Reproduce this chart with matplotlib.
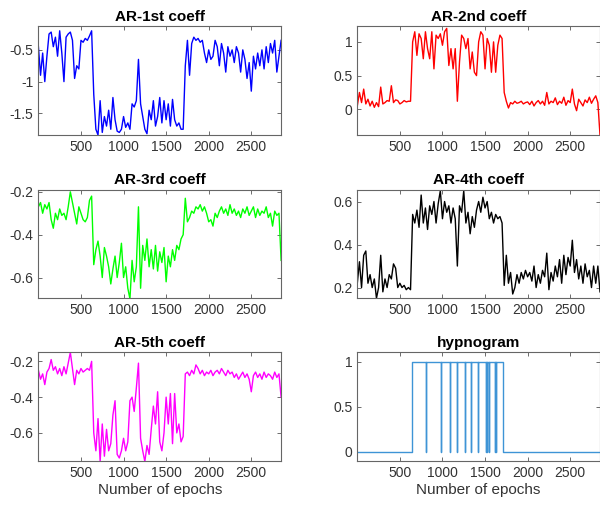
import matplotlib
matplotlib.use("Agg")
import matplotlib.pyplot as plt
import numpy as np
from matplotlib.ticker import FuncFormatter

plt.rcParams["font.family"] = ["Liberation Sans", "DejaVu Sans"]
plt.rcParams["axes.unicode_minus"] = False

# epochs sampled every 25
epochs = np.arange(0, 2851, 25)

ar1 = [-0.45, -0.9, -0.55, -1.0, -0.6, -0.25, -0.22, -0.45, -0.3, -0.6,
       -0.2, -0.55, -1.0, -0.3, -0.25, -0.22, -0.35, -0.95, -0.75, -0.8,
       -0.35, -0.38, -0.32, -0.35, -0.28, -0.2, -1.2, -1.75, -1.84, -1.3,
       -1.8, -1.55, -1.7, -1.45, -1.75, -1.25, -1.6, -1.78, -1.8, -1.75,
       -1.55, -1.72, -1.65, -1.75, -1.35, -1.4, -1.3, -0.65, -1.35, -1.55,
       -1.75, -1.82, -1.45, -1.6, -1.3, -1.7, -1.55, -1.25, -1.65, -1.3,
       -1.6, -1.35, -1.7, -1.28, -1.6, -1.7, -1.65, -1.75, -1.75, -0.75,
       -0.35, -0.9, -0.4, -0.3, -0.35, -0.32, -0.38, -0.35, -0.55, -0.7,
       -0.5, -0.65, -0.6, -0.35, -0.45, -0.75, -0.4, -0.55, -0.85, -0.45,
       -0.6, -0.5, -0.7, -0.45, -0.55, -0.85, -0.5, -0.65, -0.95, -0.7,
       -1.15, -0.6, -0.8, -0.55, -0.75, -0.5, -0.8, -0.45, -0.7, -0.4,
       -0.55, -0.35, -0.85, -0.6, -0.35]

ar2 = [0.05, 0.25, 0.1, 0.3, 0.08, 0.15, 0.05, 0.12, 0.03, 0.1,
       0.04, 0.33, 0.08, 0.1, 0.13, 0.12, 0.35, 0.1, 0.14, 0.13,
       0.08, 0.1, 0.13, 0.11, 0.12, 0.12, 1.0, 1.15, 0.8, 1.12,
       1.05, 0.75, 1.15, 0.9, 0.75, 1.15, 0.6, 1.1, 1.05, 1.12,
       0.95, 1.15, 1.2, 0.65, 0.9, 0.6, 0.9, 0.12, 0.7, 1.1,
       1.05, 0.9, 1.05, 0.6, 0.85, 0.55, 0.5, 1.0, 1.15, 1.1,
       0.6, 1.05, 0.95, 0.55, 1.0, 0.55, 0.95, 1.1, 1.05, 0.25,
       0.12, 0.02, 0.1, 0.08, 0.12, 0.09, 0.1, 0.12, 0.08, 0.1,
       0.11, 0.07, 0.12, 0.05, 0.1, 0.13, 0.08, 0.12, 0.06, 0.25,
       0.08, 0.12, 0.1, 0.17, 0.07, 0.12, 0.09, 0.18, 0.06, 0.13,
       0.1, 0.3, 0.08, -0.02, 0.15, 0.1, 0.05, 0.14, 0.1, 0.18,
       0.09, 0.15, 0.2, 0.1, -0.38]

ar3 = [-0.27, -0.25, -0.3, -0.26, -0.28, -0.25, -0.33, -0.37, -0.3, -0.33,
       -0.28, -0.31, -0.3, -0.33, -0.27, -0.2, -0.25, -0.3, -0.35, -0.27,
       -0.3, -0.33, -0.34, -0.32, -0.24, -0.22, -0.54, -0.47, -0.43, -0.5,
       -0.6, -0.46, -0.5, -0.55, -0.63, -0.56, -0.5, -0.6, -0.53, -0.44,
       -0.6, -0.55, -0.65, -0.7, -0.52, -0.62, -0.55, -0.27, -0.65, -0.45,
       -0.52, -0.42, -0.55, -0.47, -0.56, -0.45, -0.57, -0.48, -0.53, -0.46,
       -0.62, -0.5, -0.55, -0.47, -0.52, -0.45, -0.47, -0.42, -0.4, -0.23,
       -0.34, -0.32, -0.29, -0.3, -0.27, -0.28, -0.26, -0.29, -0.27, -0.3,
       -0.34, -0.33, -0.36, -0.3, -0.32, -0.29, -0.27, -0.3, -0.28, -0.31,
       -0.26, -0.3, -0.28, -0.31, -0.29, -0.32, -0.28, -0.3, -0.27, -0.31,
       -0.29, -0.27, -0.32, -0.28, -0.31, -0.29, -0.3, -0.27, -0.32, -0.3,
       -0.36, -0.29, -0.31, -0.3, -0.52]

ar4 = [0.22, 0.32, 0.2, 0.35, 0.37, 0.22, 0.26, 0.2, 0.24, 0.15,
       0.2, 0.35, 0.18, 0.24, 0.2, 0.26, 0.24, 0.31, 0.29, 0.2,
       0.22, 0.2, 0.21, 0.19, 0.2, 0.19, 0.54, 0.5, 0.56, 0.48,
       0.63, 0.5, 0.57, 0.47, 0.58, 0.54, 0.6, 0.5, 0.59, 0.65,
       0.52, 0.6, 0.55, 0.58, 0.5, 0.57, 0.52, 0.3, 0.58, 0.55,
       0.65, 0.5, 0.55, 0.45, 0.53, 0.48, 0.56, 0.6, 0.55, 0.62,
       0.57, 0.6, 0.52, 0.55, 0.5, 0.54, 0.52, 0.53, 0.5, 0.21,
       0.35, 0.22, 0.27, 0.17, 0.2, 0.26, 0.22, 0.27, 0.24, 0.28,
       0.25, 0.27, 0.23, 0.3, 0.2, 0.26, 0.22, 0.28, 0.25, 0.36,
       0.19, 0.27, 0.23, 0.3, 0.25, 0.33, 0.22, 0.35, 0.26, 0.34,
       0.3, 0.42, 0.27, 0.33, 0.24, 0.3, 0.22, 0.31, 0.25, 0.28,
       0.2, 0.3, 0.22, 0.3, 0.18]

ar5 = [-0.25, -0.3, -0.27, -0.33, -0.26, -0.24, -0.19, -0.25, -0.23, -0.27,
       -0.24, -0.28, -0.23, -0.27, -0.21, -0.15, -0.24, -0.33, -0.25, -0.27,
       -0.24, -0.26, -0.25, -0.24, -0.25, -0.2, -0.6, -0.7, -0.52, -0.76,
       -0.55, -0.73, -0.58, -0.7, -0.66, -0.5, -0.42, -0.72, -0.74, -0.7,
       -0.63, -0.7, -0.65, -0.42, -0.4, -0.48, -0.35, -0.21, -0.63, -0.7,
       -0.76, -0.67, -0.72, -0.58, -0.45, -0.55, -0.37, -0.65, -0.7, -0.6,
       -0.4, -0.55, -0.38, -0.66, -0.38, -0.6, -0.55, -0.65, -0.62, -0.27,
       -0.26, -0.28, -0.25, -0.27, -0.22, -0.24, -0.27, -0.25, -0.28, -0.26,
       -0.27, -0.25, -0.28, -0.26, -0.25, -0.27, -0.24, -0.26, -0.28, -0.25,
       -0.27, -0.26, -0.29, -0.27, -0.3, -0.28, -0.26, -0.29, -0.27, -0.3,
       -0.37, -0.28, -0.26, -0.29, -0.27, -0.3, -0.26, -0.29, -0.27, -0.28,
       -0.3, -0.26, -0.29, -0.27, -0.4]

# hypnogram: stage 1 between these epochs, single-epoch drops to 0
rem_start, rem_end = 641, 1710
rem_dips = [810, 979, 1085, 1172, 1262, 1337, 1420, 1510, 1526, 1545, 1612, 1632]
n_epochs = 2850

hyp_x = [0, rem_start, rem_start]
hyp_y = [0, 0, 1]
for d in rem_dips:
    hyp_x += [d, d, d + 1, d + 1]
    hyp_y += [1, 0, 0, 1]
hyp_x += [rem_end, rem_end, n_epochs]
hyp_y += [1, 0, 0]

panels = [
    ("AR-1st coeff", epochs, ar1, "#0000ff", (-1.84, -0.13), [-1.5, -1, -0.5]),
    ("AR-2nd coeff", epochs, ar2, "#ff0000", (-0.38, 1.23), [0, 0.5, 1]),
    ("AR-3rd coeff", epochs, ar3, "#00ff00", (-0.697, -0.19), [-0.6, -0.4, -0.2]),
    ("AR-4th coeff", epochs, ar4, "#000000", (0.15, 0.655), [0.2, 0.4, 0.6]),
    ("AR-5th coeff", epochs, ar5, "#ff00ff", (-0.757, -0.15), [-0.6, -0.4, -0.2]),
    ("hypnogram", hyp_x, hyp_y, "#3e94d6", (-0.104, 1.104), [0, 0.5, 1]),
]

fig = plt.figure(figsize=(6, 5.08), dpi=100)
lefts = [0.064, 0.5955]
bottoms = [0.7343, 0.4128, 0.0925]
w, h = 0.4045, 0.2138
fmt = FuncFormatter(lambda v, p: "%g" % v)

for i, (title, x, y, col, ylim, yt) in enumerate(panels):
    ax = fig.add_axes([lefts[i % 2], bottoms[i // 2], w, h])
    ax.plot(x, y, color=col, lw=1.0)
    ax.set_xlim(0, n_epochs)
    ax.set_ylim(*ylim)
    ax.set_xticks([500, 1000, 1500, 2000, 2500])
    ax.set_yticks(yt)
    ax.yaxis.set_major_formatter(fmt)
    ax.tick_params(direction="in", length=3, width=0.6, colors="#555555",
                   labelcolor="#333333", labelsize=10, top=True, right=True)
    for s in ax.spines.values():
        s.set_color("#666666")
        s.set_linewidth(0.8)
    ax.set_title(title, fontsize=11, fontweight="bold", pad=4)
    if i >= 4:
        ax.set_xlabel("Number of epochs", fontsize=11, color="#333333", labelpad=2)

fig.savefig("out.png", dpi=100)
